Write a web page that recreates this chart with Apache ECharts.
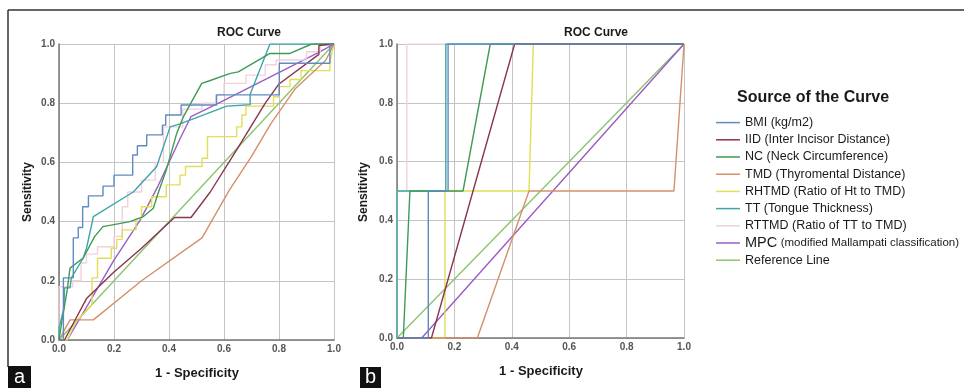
<!DOCTYPE html>
<html>
<head>
<meta charset="utf-8">
<script src="https://cdn.jsdelivr.net/npm/echarts@6/dist/echarts.min.js"></script>
<style>
  html, body { margin: 0; padding: 0; background: #fff; }
  #chart { width: 964px; height: 388px; }
</style>
</head>
<body>
<div id="chart"></div>
<script>
// Curve names, in legend order
const curveNames = [
  'BMI (kg/m2)',
  'IID (Inter Incisor Distance)',
  'NC (Neck Circumference)',
  'TMD (Thyromental Distance)',
  'RHTMD (Ratio of Ht to TMD)',
  'TT (Tongue Thickness)',
  'RTTMD (Ratio of TT to TMD)',
  'MPC (modified Mallampati classification)',
  'Reference Line'
];
const curveColors = ['#5f8cbf', '#8a3450', '#3f9a52', '#d4906a', '#e2de55', '#3ea5a8', '#f3cfdc', '#9b5cc6', '#8cc46e'];

const tickLabels = ['0.0', '0.2', '0.4', '0.6', '0.8', '1.0'];

// Panel a: [1 - specificity, sensitivity]
const aBMI = [[0,0],[0.016,0],[0.016,0.21],[0.052,0.21],[0.052,0.345],[0.07,0.345],[0.07,0.38],[0.086,0.38],[0.086,0.45],[0.107,0.45],[0.107,0.487],[0.16,0.487],[0.16,0.52],[0.2,0.52],[0.2,0.557],[0.268,0.557],[0.268,0.625],[0.285,0.625],[0.285,0.656],[0.319,0.656],[0.319,0.693],[0.376,0.693],[0.376,0.726],[0.388,0.726],[0.388,0.76],[0.444,0.76],[0.444,0.794],[0.573,0.794],[0.573,0.828],[0.801,0.828],[0.801,0.935],[0.985,0.935],[0.985,1],[1,1]];
const aIID = [[0,0],[0.02,0],[0.06,0.07],[0.1,0.14],[0.2,0.23],[0.3,0.31],[0.42,0.414],[0.48,0.414],[0.55,0.5],[0.646,0.642],[0.75,0.8],[0.8,0.865],[0.945,0.965],[0.945,0.995],[1,1]];
const aNC = [[0,0],[0.01,0.06],[0.03,0.17],[0.04,0.243],[0.088,0.277],[0.13,0.35],[0.16,0.383],[0.258,0.4],[0.307,0.417],[0.343,0.445],[0.36,0.495],[0.39,0.574],[0.428,0.698],[0.452,0.754],[0.519,0.867],[0.545,0.875],[0.62,0.9],[0.652,0.906],[0.767,0.968],[0.84,0.968],[0.919,1],[1,1]];
const aTMD = [[0,0],[0.04,0.068],[0.125,0.068],[0.3,0.2],[0.52,0.345],[0.62,0.507],[0.7,0.62],[0.77,0.73],[0.86,0.85],[0.97,0.945],[1,1]];
const aRHTMD = [[0,0],[0.03,0],[0.06,0.06],[0.12,0.12],[0.12,0.21],[0.14,0.21],[0.14,0.276],[0.19,0.276],[0.19,0.31],[0.21,0.31],[0.21,0.34],[0.23,0.34],[0.23,0.372],[0.28,0.372],[0.28,0.41],[0.3,0.41],[0.3,0.45],[0.337,0.45],[0.337,0.484],[0.39,0.484],[0.39,0.524],[0.44,0.524],[0.44,0.557],[0.46,0.557],[0.46,0.586],[0.52,0.586],[0.52,0.614],[0.54,0.614],[0.54,0.687],[0.646,0.687],[0.646,0.72],[0.665,0.72],[0.665,0.76],[0.68,0.76],[0.68,0.79],[0.78,0.79],[0.78,0.822],[0.8,0.822],[0.8,0.856],[0.84,0.856],[0.84,0.88],[0.88,0.88],[0.88,0.91],[0.985,0.91],[0.985,0.94],[1,1]];
const aTT = [[0,0],[0,0.04],[0.018,0.108],[0.02,0.176],[0.04,0.176],[0.045,0.21],[0.088,0.277],[0.1,0.31],[0.125,0.417],[0.27,0.5],[0.355,0.585],[0.404,0.72],[0.44,0.73],[0.61,0.79],[0.695,0.795],[0.695,0.83],[0.767,1],[1,1]];
const aRTTMD = [[0,0],[0,0.18],[0.05,0.18],[0.05,0.2],[0.08,0.2],[0.08,0.26],[0.1,0.26],[0.1,0.29],[0.14,0.29],[0.14,0.315],[0.2,0.315],[0.2,0.35],[0.23,0.35],[0.23,0.45],[0.25,0.45],[0.25,0.5],[0.3,0.5],[0.3,0.54],[0.35,0.54],[0.35,0.6],[0.38,0.6],[0.38,0.72],[0.45,0.72],[0.45,0.78],[0.52,0.78],[0.52,0.8],[0.57,0.8],[0.57,0.828],[0.6,0.828],[0.6,0.867],[0.68,0.867],[0.68,0.895],[0.75,0.895],[0.75,0.93],[0.79,0.93],[0.79,0.946],[0.9,0.946],[0.9,0.974],[0.95,0.974],[0.95,1],[1,1]];
const aMPC = [[0,0],[0.03,0],[0.2,0.27],[0.295,0.405],[0.36,0.52],[0.44,0.68],[0.48,0.755],[0.573,0.797],[0.95,0.974],[1,1]];
const aRef = [[0,0],[1,1]];

// Panel b
const bBMI = [[0,0],[0.109,0],[0.109,0.5],[0.178,0.5],[0.178,1],[1,1]];
const bIID = [[0,0],[0.12,0],[0.41,1],[1,1]];
const bNC = [[0,0],[0.022,0],[0.045,0.5],[0.23,0.5],[0.325,1],[1,1]];
const bTMD = [[0,0],[0.28,0],[0.46,0.5],[0.965,0.5],[1,1]];
const bRHTMD = [[0,0],[0.167,0],[0.167,0.5],[0.46,0.5],[0.475,1],[1,1]];
const bTT = [[0,0],[0,0.5],[0.17,0.5],[0.17,1],[1,1]];
const bRTTMD = [[0,0],[0,0.5],[0.034,0.5],[0.034,1],[1,1]];
const bMPC = [[0,0],[0.086,0],[1,1]];
const bRef = [[0,0],[1,1]];

const panelA = [aBMI, aIID, aNC, aTMD, aRHTMD, aTT, aRTTMD, aMPC, aRef];
const panelB = [bBMI, bIID, bNC, bTMD, bRHTMD, bTT, bRTTMD, bMPC, bRef];

const FONT = '"Liberation Sans", Arial, sans-serif';

function makeAxis(gridIndex) {
  return {
    type: 'value',
    gridIndex,
    min: 0,
    max: 1,
    interval: 0.2,
    axisLine: { show: true, lineStyle: { color: '#777', width: 1.5 } },
    axisTick: { show: false },
    splitLine: { show: true, lineStyle: { color: '#c4c4c4', width: 1 } },
    axisLabel: {
      fontFamily: FONT, fontSize: 10, fontWeight: 'bold', color: '#555', margin: 4,
      formatter: (v) => tickLabels[Math.round(v * 5)]
    }
  };
}

function makeSeries(panel, idx) {
  return panel.map((pts, i) => ({
    name: curveNames[i],
    type: 'line',
    xAxisIndex: idx,
    yAxisIndex: idx,
    data: pts,
    showSymbol: false,
    silent: true,
    lineStyle: { width: 1.4, color: curveColors[i] },
    itemStyle: { color: curveColors[i] },
    z: 10 - i
  }));
}

const chart = echarts.init(document.getElementById('chart'), null, { renderer: 'canvas' });

const textEl = (x, y, text, size, extra) => Object.assign({
  type: 'text', x, y,
  style: Object.assign({ text, fontFamily: FONT, fontSize: size, fontWeight: 'bold', fill: '#1a1a1a', align: 'center', verticalAlign: 'middle' }, extra || {})
});

chart.setOption({
  animation: false,
  grid: [
    { left: 59, top: 44, width: 275, height: 296 },
    { left: 397, top: 44, width: 287, height: 294 }
  ],
  xAxis: [makeAxis(0), makeAxis(1)],
  yAxis: [makeAxis(0), makeAxis(1)],
  legend: {
    orient: 'vertical',
    left: 716,
    top: 114,
    padding: 0,
    data: curveNames,
    icon: 'rect',
    itemWidth: 24,
    itemHeight: 1.5,
    itemGap: 0,
    selectedMode: false,
    textStyle: {
      fontFamily: FONT, fontSize: 12.5, color: '#1a1a1a', lineHeight: 17.2,
      rich: {
        big: { fontFamily: FONT, fontSize: 14.5, color: '#1a1a1a', lineHeight: 17.2 },
        small: { fontFamily: FONT, fontSize: 11.5, color: '#1a1a1a', lineHeight: 17.2 }
      }
    },
    formatter: (name) => {
      if (name.startsWith('MPC')) return '{big|MPC} {small|(modified Mallampati classification)}';
      return name;
    }
  },
  series: [...makeSeries(panelA, 0), ...makeSeries(panelB, 1)],
  graphic: [
    // figure frame
    { type: 'line', shape: { x1: 8, y1: 10, x2: 964, y2: 10 }, style: { stroke: '#333', lineWidth: 1.5 } },
    { type: 'line', shape: { x1: 8, y1: 10, x2: 8, y2: 367 }, style: { stroke: '#333', lineWidth: 1.5 } },
    // titles
    textEl(249, 33, 'ROC Curve', 12),
    textEl(596, 33, 'ROC Curve', 12),
    // axis names
    textEl(197, 373, '1 - Specificity', 13),
    textEl(541, 371, '1 - Specificity', 13),
    Object.assign(textEl(28, 192, 'Sensitivity', 12), { rotation: Math.PI / 2 }),
    Object.assign(textEl(364, 192, 'Sensitivity', 12), { rotation: Math.PI / 2 }),
    // legend title
    textEl(737, 98, 'Source of the Curve', 16, { align: 'left' }),
    // panel letters
    { type: 'rect', shape: { x: 8, y: 366, width: 23, height: 22 }, style: { fill: '#111' } },
    textEl(19.5, 377, 'a', 20, { fill: '#fff', fontWeight: 'normal' }),
    { type: 'rect', shape: { x: 360, y: 367, width: 21, height: 21 }, style: { fill: '#111' } },
    textEl(370.5, 377, 'b', 20, { fill: '#fff', fontWeight: 'normal' })
  ]
});
</script>
</body>
</html>
